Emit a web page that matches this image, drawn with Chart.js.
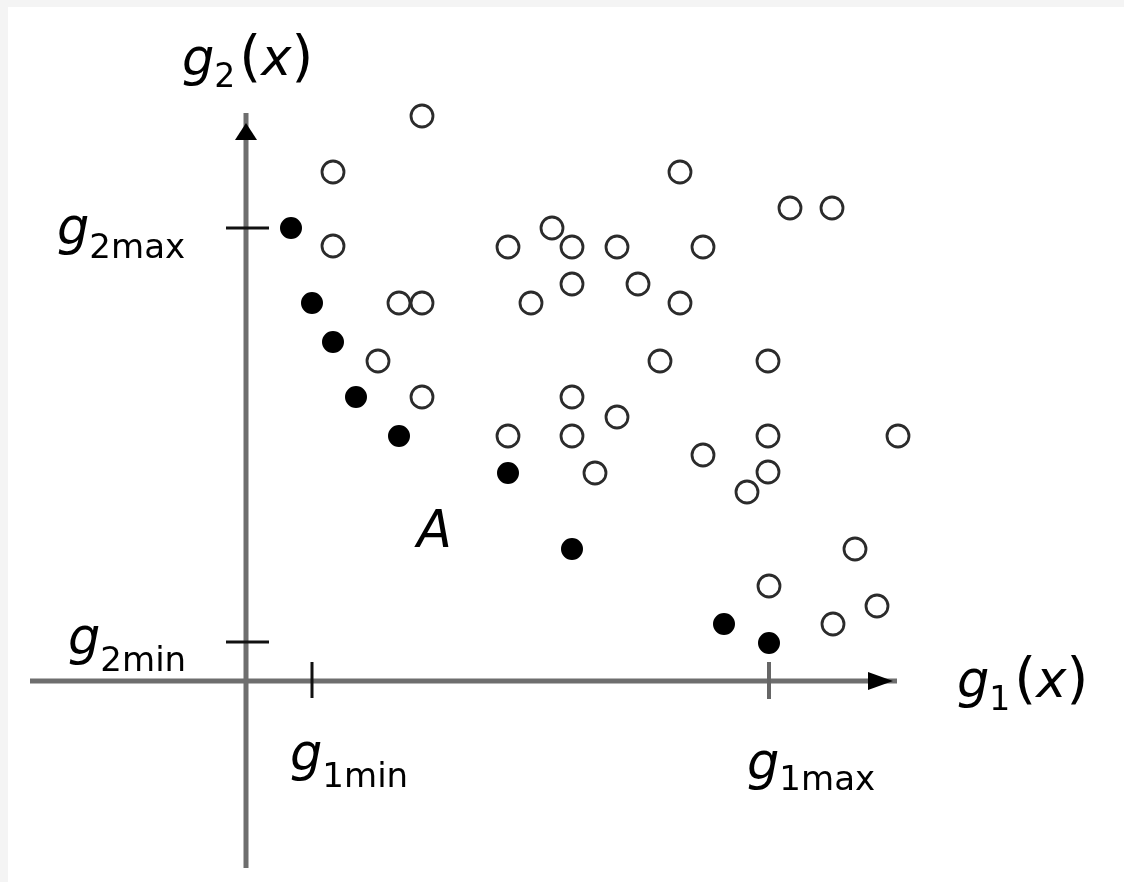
<!DOCTYPE html>
<html>
<head>
<meta charset="utf-8">
<script src="https://cdn.jsdelivr.net/npm/chart.js@4.4.1/dist/chart.umd.min.js"></script>
<style>
  html, body { margin: 0; padding: 0; background: #fff; }
  canvas { display: block; }
</style>
</head>
<body>
<canvas id="chart" width="1124" height="882"></canvas>
<script>
// Points, in axis units (origin at the axis crossing).
const openX = [17.6, 8.7, 43.4, 54.4, 58.6, 8.7, 26.2, 30.6, 32.6, 37.1, 45.7,
  15.3, 17.6, 28.5, 32.6, 39.2, 43.4, 13.2, 41.4, 52.2, 17.6, 32.6, 37.1,
  26.2, 32.6, 52.2, 65.2, 34.9, 45.7, 52.2, 50.1, 60.9, 52.3, 63.1, 58.7];
const openY = [56.5, 50.9, 50.9, 47.3, 47.3, 43.5, 43.4, 45.3, 43.4, 43.4, 43.4,
  37.8, 37.8, 37.8, 39.7, 39.7, 37.8, 32.0, 32.0, 32.0, 28.4, 28.4, 26.4,
  24.5, 24.5, 24.5, 24.5, 20.8, 22.6, 20.9, 18.9, 13.2, 9.5, 7.5, 5.7];
const filledX = [4.5, 6.6, 8.7, 11.0, 15.3, 26.2, 32.6, 47.8, 52.3];
const filledY = [45.3, 37.8, 33.9, 28.4, 24.5, 20.8, 13.2, 5.7, 3.8];

// marked positions on the axes
const g1Ticks = [6.6, 52.3];   // g1min, g1max
const g2Ticks = [3.9, 45.3];   // g2min, g2max

const toPoints = (xs, ys) => xs.map((x, i) => ({ x: x, y: ys[i] }));

const mainFont = 'italic 51px "DejaVu Sans"';
const parenFont = '56px "DejaVu Sans"';

// draws g_{sub} and returns the x where the text ends
function gLabel(ctx, x, base, sub, subDrop, subSize) {
  ctx.font = mainFont;
  ctx.fillText('g', x, base);
  let cx = x + ctx.measureText('g').width;
  ctx.font = (subSize || 34) + 'px "DejaVu Sans"';
  ctx.fillText(sub, cx, base + subDrop);
  return cx + ctx.measureText(sub).width;
}

function fnLabel(ctx, x, base, sub, subDrop) {
  let cx = gLabel(ctx, x, base, sub, subDrop, 33) + 4;
  ctx.font = parenFont;
  ctx.fillText('(', cx, base);
  cx += ctx.measureText('(').width;
  ctx.font = mainFont;
  ctx.fillText('x', cx, base);
  cx += ctx.measureText('x').width;
  ctx.font = parenFont;
  ctx.fillText(')', cx, base);
}

const axesPlugin = {
  id: 'axes',
  beforeDraw(chart) {
    const ctx = chart.ctx;
    ctx.save();
    ctx.fillStyle = '#ffffff';
    ctx.fillRect(0, 0, chart.width, chart.height);
    ctx.fillStyle = '#f4f4f4';
    ctx.fillRect(0, 0, chart.width, 7);
    ctx.fillRect(0, 0, 8, chart.height);
    ctx.restore();
  },
  beforeDatasetsDraw(chart) {
    const ctx = chart.ctx;
    const xs = chart.scales.x, ys = chart.scales.y;
    const x0 = xs.getPixelForValue(0), y0 = ys.getPixelForValue(0);
    const xEnd = xs.getPixelForValue(65.1), yEnd = ys.getPixelForValue(56.8);
    ctx.save();

    // axis lines
    ctx.strokeStyle = '#6e6e6e';
    ctx.lineWidth = 5;
    ctx.beginPath();
    ctx.moveTo(xs.getPixelForValue(-21.6), y0);
    ctx.lineTo(xEnd, y0);
    ctx.moveTo(x0, ys.getPixelForValue(-18.7));
    ctx.lineTo(x0, yEnd);
    ctx.stroke();

    // arrow heads
    ctx.fillStyle = '#000';
    ctx.beginPath();
    ctx.moveTo(xEnd - 4, y0);
    ctx.lineTo(xEnd - 29, y0 - 9);
    ctx.lineTo(xEnd - 29, y0 + 9);
    ctx.closePath();
    ctx.fill();
    ctx.beginPath();
    ctx.moveTo(x0, yEnd + 10);
    ctx.lineTo(x0 - 11, yEnd + 27);
    ctx.lineTo(x0 + 11, yEnd + 27);
    ctx.closePath();
    ctx.fill();

    // tick marks
    ctx.strokeStyle = '#111';
    ctx.lineWidth = 3;
    ctx.beginPath();
    g2Ticks.forEach(v => {
      const py = ys.getPixelForValue(v);
      ctx.moveTo(x0 - 20, py);
      ctx.lineTo(x0 + 23, py);
    });
    ctx.moveTo(xs.getPixelForValue(g1Ticks[0]), y0 - 19);
    ctx.lineTo(xs.getPixelForValue(g1Ticks[0]), y0 + 17);
    ctx.stroke();
    ctx.strokeStyle = '#666';
    ctx.lineWidth = 4;
    ctx.beginPath();
    ctx.moveTo(xs.getPixelForValue(g1Ticks[1]), y0 - 19);
    ctx.lineTo(xs.getPixelForValue(g1Ticks[1]), y0 + 18);
    ctx.stroke();

    // labels
    ctx.fillStyle = '#000';
    ctx.textBaseline = 'alphabetic';
    fnLabel(ctx, x0 - 64, yEnd - 38, '2', 12);
    fnLabel(ctx, xEnd + 60, y0 + 16, '1', 13);
    gLabel(ctx, 57, ys.getPixelForValue(g2Ticks[1]) + 16, '2max', 14);
    gLabel(ctx, 68, ys.getPixelForValue(g2Ticks[0]) + 12, '2min', 17);
    gLabel(ctx, xs.getPixelForValue(g1Ticks[0]) - 22, y0 + 89, '1min', 17);
    gLabel(ctx, xs.getPixelForValue(g1Ticks[1]) - 22, y0 + 98, '1max', 11);
    ctx.font = mainFont;
    ctx.fillText('A', 417, 547);
    ctx.restore();
  }
};

new Chart(document.getElementById('chart').getContext('2d'), {
  type: 'scatter',
  data: {
    datasets: [{
      data: toPoints(openX, openY),
      pointStyle: 'circle',
      pointRadius: 11,
      borderWidth: 2.8,
      borderColor: '#2b2b2b',
      backgroundColor: 'rgba(255,255,255,0)'
    }, {
      data: toPoints(filledX, filledY),
      pointStyle: 'circle',
      pointRadius: 10,
      borderWidth: 2,
      borderColor: '#000',
      backgroundColor: '#000'
    }]
  },
  options: {
    responsive: false,
    animation: false,
    layout: { padding: 0, autoPadding: false },
    plugins: { legend: { display: false }, tooltip: { enabled: false } },
    scales: {
      x: { type: 'linear', display: false, min: -24.6, max: 87.8 },
      y: { type: 'linear', display: false, min: -20.1, max: 68.1 }
    }
  },
  plugins: [axesPlugin]
});
</script>
</body>
</html>
